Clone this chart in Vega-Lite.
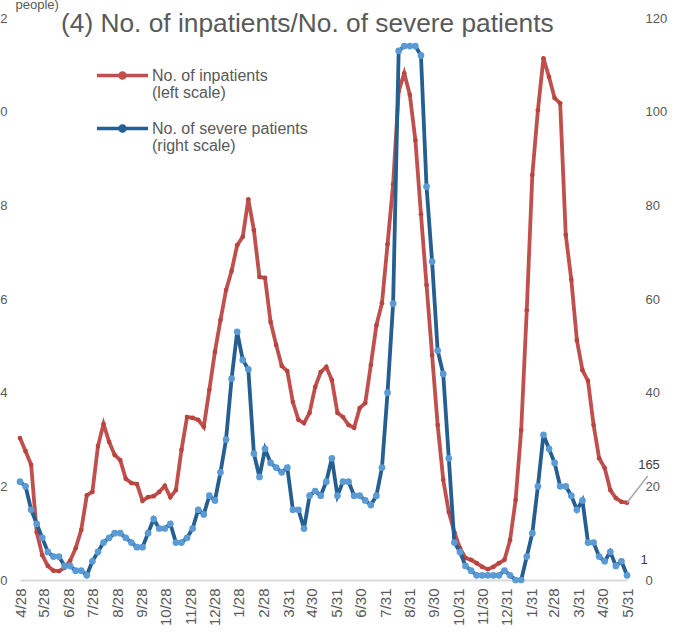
{
  "$schema": "https://vega.github.io/schema/vega-lite/v6.json",
  "width": 607,
  "height": 562,
  "autosize": {"type": "none"},
  "padding": {"left": 20, "top": 18, "right": 50, "bottom": 54},
  "background": "white",
  "config": {
    "font": "Liberation Sans",
    "view": {"stroke": null},
    "axis": {"grid": false, "ticks": false, "domain": false, "labelColor": "#595959", "labelFont": "Liberation Sans"}
  },
  "title": {
    "text": "(4) No. of inpatients/No. of severe patients",
    "anchor": "start",
    "frame": "group",
    "fontSize": 26.3,
    "fontWeight": "normal",
    "color": "#595959",
    "font": "Liberation Sans",
    "baseline": "top",
    "offset": -39,
    "dx": 41
  },
  "datasets": {
    "inpatients": [
      {"date": "2020-04-28", "value": 303}, {"date": "2020-05-05", "value": 275}, {"date": "2020-05-12", "value": 246}, {"date": "2020-05-19", "value": 102},
      {"date": "2020-05-26", "value": 53}, {"date": "2020-06-02", "value": 30}, {"date": "2020-06-09", "value": 20}, {"date": "2020-06-16", "value": 19},
      {"date": "2020-06-23", "value": 26}, {"date": "2020-06-30", "value": 41}, {"date": "2020-07-07", "value": 68}, {"date": "2020-07-14", "value": 107},
      {"date": "2020-07-21", "value": 181}, {"date": "2020-07-28", "value": 188}, {"date": "2020-08-04", "value": 286}, {"date": "2020-08-11", "value": 333},
      {"date": "2020-08-18", "value": 295}, {"date": "2020-08-25", "value": 267}, {"date": "2020-09-01", "value": 256}, {"date": "2020-09-08", "value": 216},
      {"date": "2020-09-15", "value": 207}, {"date": "2020-09-22", "value": 205}, {"date": "2020-09-29", "value": 169}, {"date": "2020-10-06", "value": 177},
      {"date": "2020-10-13", "value": 179}, {"date": "2020-10-20", "value": 188}, {"date": "2020-10-27", "value": 201}, {"date": "2020-11-03", "value": 177},
      {"date": "2020-11-10", "value": 192}, {"date": "2020-11-17", "value": 278}, {"date": "2020-11-24", "value": 348}, {"date": "2020-12-01", "value": 346},
      {"date": "2020-12-08", "value": 342}, {"date": "2020-12-15", "value": 327}, {"date": "2020-12-22", "value": 406}, {"date": "2020-12-29", "value": 487},
      {"date": "2021-01-05", "value": 555}, {"date": "2021-01-12", "value": 619}, {"date": "2021-01-19", "value": 660}, {"date": "2021-01-26", "value": 715},
      {"date": "2021-02-02", "value": 733}, {"date": "2021-02-09", "value": 813}, {"date": "2021-02-16", "value": 747}, {"date": "2021-02-23", "value": 647},
      {"date": "2021-03-02", "value": 645}, {"date": "2021-03-09", "value": 551}, {"date": "2021-03-16", "value": 502}, {"date": "2021-03-23", "value": 457},
      {"date": "2021-03-30", "value": 446}, {"date": "2021-04-06", "value": 380}, {"date": "2021-04-13", "value": 342}, {"date": "2021-04-20", "value": 335},
      {"date": "2021-04-27", "value": 357}, {"date": "2021-05-04", "value": 412}, {"date": "2021-05-11", "value": 444}, {"date": "2021-05-18", "value": 455},
      {"date": "2021-05-25", "value": 427}, {"date": "2021-06-01", "value": 357}, {"date": "2021-06-08", "value": 348}, {"date": "2021-06-15", "value": 331},
      {"date": "2021-06-22", "value": 325}, {"date": "2021-06-29", "value": 367}, {"date": "2021-07-06", "value": 378}, {"date": "2021-07-13", "value": 459},
      {"date": "2021-07-20", "value": 544}, {"date": "2021-07-27", "value": 591}, {"date": "2021-08-03", "value": 717}, {"date": "2021-08-10", "value": 845},
      {"date": "2021-08-17", "value": 1044}, {"date": "2021-08-24", "value": 1082}, {"date": "2021-08-31", "value": 1036}, {"date": "2021-09-07", "value": 939},
      {"date": "2021-09-14", "value": 781}, {"date": "2021-09-21", "value": 630}, {"date": "2021-09-28", "value": 480}, {"date": "2021-10-05", "value": 331},
      {"date": "2021-10-12", "value": 214}, {"date": "2021-10-19", "value": 145}, {"date": "2021-10-26", "value": 102}, {"date": "2021-11-02", "value": 68},
      {"date": "2021-11-09", "value": 47}, {"date": "2021-11-16", "value": 43}, {"date": "2021-11-23", "value": 36}, {"date": "2021-11-30", "value": 28},
      {"date": "2021-12-07", "value": 23}, {"date": "2021-12-14", "value": 28}, {"date": "2021-12-21", "value": 36}, {"date": "2021-12-28", "value": 43},
      {"date": "2022-01-04", "value": 85}, {"date": "2022-01-11", "value": 171}, {"date": "2022-01-18", "value": 320}, {"date": "2022-01-25", "value": 576},
      {"date": "2022-02-01", "value": 865}, {"date": "2022-02-08", "value": 1003}, {"date": "2022-02-15", "value": 1114}, {"date": "2022-02-22", "value": 1074},
      {"date": "2022-03-01", "value": 1029}, {"date": "2022-03-08", "value": 1018}, {"date": "2022-03-15", "value": 737}, {"date": "2022-03-22", "value": 641},
      {"date": "2022-03-29", "value": 512}, {"date": "2022-04-05", "value": 448}, {"date": "2022-04-12", "value": 425}, {"date": "2022-04-19", "value": 331},
      {"date": "2022-04-26", "value": 260}, {"date": "2022-05-03", "value": 239}, {"date": "2022-05-10", "value": 192}, {"date": "2022-05-17", "value": 175},
      {"date": "2022-05-24", "value": 167}, {"date": "2022-05-31", "value": 165}
    ],
    "severe": [
      {"date": "2020-04-28", "value": 21}, {"date": "2020-05-05", "value": 20}, {"date": "2020-05-12", "value": 15}, {"date": "2020-05-19", "value": 12},
      {"date": "2020-05-26", "value": 9}, {"date": "2020-06-02", "value": 6}, {"date": "2020-06-09", "value": 5}, {"date": "2020-06-16", "value": 5},
      {"date": "2020-06-23", "value": 3}, {"date": "2020-06-30", "value": 3}, {"date": "2020-07-07", "value": 2}, {"date": "2020-07-14", "value": 2},
      {"date": "2020-07-21", "value": 1}, {"date": "2020-07-28", "value": 4}, {"date": "2020-08-04", "value": 6}, {"date": "2020-08-11", "value": 8},
      {"date": "2020-08-18", "value": 9}, {"date": "2020-08-25", "value": 10}, {"date": "2020-09-01", "value": 10}, {"date": "2020-09-08", "value": 9},
      {"date": "2020-09-15", "value": 8}, {"date": "2020-09-22", "value": 7}, {"date": "2020-09-29", "value": 7}, {"date": "2020-10-06", "value": 10},
      {"date": "2020-10-13", "value": 13}, {"date": "2020-10-20", "value": 11}, {"date": "2020-10-27", "value": 11}, {"date": "2020-11-03", "value": 12},
      {"date": "2020-11-10", "value": 8}, {"date": "2020-11-17", "value": 8}, {"date": "2020-11-24", "value": 9}, {"date": "2020-12-01", "value": 11},
      {"date": "2020-12-08", "value": 15}, {"date": "2020-12-15", "value": 14}, {"date": "2020-12-22", "value": 18}, {"date": "2020-12-29", "value": 17},
      {"date": "2021-01-05", "value": 23}, {"date": "2021-01-12", "value": 30}, {"date": "2021-01-19", "value": 43}, {"date": "2021-01-26", "value": 53},
      {"date": "2021-02-02", "value": 47}, {"date": "2021-02-09", "value": 45}, {"date": "2021-02-16", "value": 27}, {"date": "2021-02-23", "value": 22},
      {"date": "2021-03-02", "value": 28}, {"date": "2021-03-09", "value": 25}, {"date": "2021-03-16", "value": 24}, {"date": "2021-03-23", "value": 23},
      {"date": "2021-03-30", "value": 24}, {"date": "2021-04-06", "value": 15}, {"date": "2021-04-13", "value": 15}, {"date": "2021-04-20", "value": 11},
      {"date": "2021-04-27", "value": 18}, {"date": "2021-05-04", "value": 19}, {"date": "2021-05-11", "value": 18}, {"date": "2021-05-18", "value": 21},
      {"date": "2021-05-25", "value": 26}, {"date": "2021-06-01", "value": 18}, {"date": "2021-06-08", "value": 21}, {"date": "2021-06-15", "value": 21},
      {"date": "2021-06-22", "value": 18}, {"date": "2021-06-29", "value": 18}, {"date": "2021-07-06", "value": 17}, {"date": "2021-07-13", "value": 16},
      {"date": "2021-07-20", "value": 18}, {"date": "2021-07-27", "value": 24}, {"date": "2021-08-03", "value": 40}, {"date": "2021-08-10", "value": 59},
      {"date": "2021-08-17", "value": 113}, {"date": "2021-08-24", "value": 114}, {"date": "2021-08-31", "value": 114}, {"date": "2021-09-07", "value": 114},
      {"date": "2021-09-14", "value": 112}, {"date": "2021-09-21", "value": 84}, {"date": "2021-09-28", "value": 68}, {"date": "2021-10-05", "value": 49},
      {"date": "2021-10-12", "value": 44}, {"date": "2021-10-19", "value": 26}, {"date": "2021-10-26", "value": 8}, {"date": "2021-11-02", "value": 6},
      {"date": "2021-11-09", "value": 3}, {"date": "2021-11-16", "value": 2}, {"date": "2021-11-23", "value": 1}, {"date": "2021-11-30", "value": 1},
      {"date": "2021-12-07", "value": 1}, {"date": "2021-12-14", "value": 1}, {"date": "2021-12-21", "value": 1}, {"date": "2021-12-28", "value": 2},
      {"date": "2022-01-04", "value": 1}, {"date": "2022-01-11", "value": 0}, {"date": "2022-01-18", "value": 0}, {"date": "2022-01-25", "value": 5},
      {"date": "2022-02-01", "value": 10}, {"date": "2022-02-08", "value": 20}, {"date": "2022-02-15", "value": 31}, {"date": "2022-02-22", "value": 28},
      {"date": "2022-03-01", "value": 25}, {"date": "2022-03-08", "value": 20}, {"date": "2022-03-15", "value": 20}, {"date": "2022-03-22", "value": 18},
      {"date": "2022-03-29", "value": 15}, {"date": "2022-04-05", "value": 17}, {"date": "2022-04-12", "value": 8}, {"date": "2022-04-19", "value": 8},
      {"date": "2022-04-26", "value": 5}, {"date": "2022-05-03", "value": 4}, {"date": "2022-05-10", "value": 6}, {"date": "2022-05-17", "value": 3},
      {"date": "2022-05-24", "value": 4}, {"date": "2022-05-31", "value": 1}
    ]
  },
  "encoding": {
    "x": {
      "field": "date",
      "type": "temporal",
      "scale": {
        "type": "utc",
        "nice": false,
        "domain": [{"year": 2020, "month": 4, "date": 28, "utc": true}, {"year": 2022, "month": 5, "date": 31, "utc": true}]
      },
      "axis": {
        "title": null,
        "format": "%-m/%-d",
        "labelAngle": 270,
        "labelFontSize": 15,
        "labelPadding": 8,
        "labelOverlap": false,
        "labelFlush": false,
        "domain": true,
        "domainColor": "#D9D9D9",
        "domainWidth": 2,
        "values": [
          {"year": 2020, "month": 4, "date": 28, "utc": true}, {"year": 2020, "month": 5, "date": 28, "utc": true},
          {"year": 2020, "month": 6, "date": 28, "utc": true}, {"year": 2020, "month": 7, "date": 28, "utc": true},
          {"year": 2020, "month": 8, "date": 28, "utc": true}, {"year": 2020, "month": 9, "date": 28, "utc": true},
          {"year": 2020, "month": 10, "date": 28, "utc": true}, {"year": 2020, "month": 11, "date": 28, "utc": true},
          {"year": 2020, "month": 12, "date": 28, "utc": true}, {"year": 2021, "month": 1, "date": 28, "utc": true},
          {"year": 2021, "month": 2, "date": 28, "utc": true}, {"year": 2021, "month": 3, "date": 31, "utc": true},
          {"year": 2021, "month": 4, "date": 30, "utc": true}, {"year": 2021, "month": 5, "date": 31, "utc": true},
          {"year": 2021, "month": 6, "date": 30, "utc": true}, {"year": 2021, "month": 7, "date": 31, "utc": true},
          {"year": 2021, "month": 8, "date": 31, "utc": true}, {"year": 2021, "month": 9, "date": 30, "utc": true},
          {"year": 2021, "month": 10, "date": 31, "utc": true}, {"year": 2021, "month": 11, "date": 30, "utc": true},
          {"year": 2021, "month": 12, "date": 31, "utc": true}, {"year": 2022, "month": 1, "date": 31, "utc": true},
          {"year": 2022, "month": 2, "date": 28, "utc": true}, {"year": 2022, "month": 3, "date": 31, "utc": true},
          {"year": 2022, "month": 4, "date": 30, "utc": true}, {"year": 2022, "month": 5, "date": 31, "utc": true}
        ]
      }
    }
  },
  "layer": [
    {
      "data": {"name": "inpatients"},
      "encoding": {
        "y": {
          "field": "value",
          "type": "quantitative",
          "scale": {"domain": [0, 1200], "nice": false},
          "axis": {
            "orient": "left",
            "values": [0, 200, 400, 600, 800, 1000, 1200],
            "labelExpr": "format(datum.value / 100, 'd')",
            "labelFontSize": 13,
            "labelPadding": 13,
            "title": "people)",
            "titleAngle": 0,
            "titleAlign": "left",
            "titleBaseline": "alphabetic",
            "titleX": -5,
            "titleY": -10,
            "titleFontSize": 13,
            "titleFontWeight": "normal",
            "titleColor": "#595959",
            "titleFont": "Liberation Sans"
          }
        }
      },
      "layer": [
        {
          "mark": {"type": "line", "strokeWidth": 3.8},
          "encoding": {
            "color": {
              "datum": "No. of inpatients",
              "scale": {"domain": ["No. of inpatients", "No. of severe patients"], "range": ["#C0504D", "#255E91"]},
              "legend": {
                "title": null,
                "orient": "none",
                "legendX": 75,
                "legendY": 30,
                "direction": "vertical",
                "symbolType": "M-1,0L1,0M0.1,0A0.1,0.1,0,1,1,-0.1,0A0.1,0.1,0,1,1,0.1,0Z",
                "symbolSize": 2601,
                "symbolStrokeWidth": 3.5,
                "labelFontSize": 16,
                "labelColor": "#595959",
                "labelFont": "Liberation Sans",
                "labelOffset": 2,
                "labelLimit": 300,
                "rowPadding": 0,
                "labelExpr": "datum.label == 'No. of inpatients' ? ['No. of inpatients', '(left scale)'] : ['No. of severe patients', '(right scale)']",
                "encode": {
                  "symbols": {"update": {"fill": {"signal": "datum.value == 'No. of severe patients' ? '#5B9BD5' : '#C0504D'"}, "opacity": {"value": 1}}},
                  "labels": {"update": {"lineHeight": {"value": 17}}}
                }
              }
            }
          }
        },
        {
          "mark": {"type": "point", "filled": true, "size": 22, "color": "#B8443F", "opacity": 1}
        },
        {
          "transform": [{"filter": "utcyear(datum.date) == 2022 && utcmonth(datum.date) == 4 && utcdate(datum.date) == 31"}],
          "mark": {"type": "rule", "color": "#A6A6A6", "strokeWidth": 1.5},
          "encoding": {
            "x2": {"datum": {"year": 2022, "month": 6, "date": 26, "utc": true}},
            "y2": {"datum": 222}
          }
        },
        {
          "transform": [{"filter": "utcyear(datum.date) == 2022 && utcmonth(datum.date) == 4 && utcdate(datum.date) == 31"}],
          "mark": {"type": "text", "dx": 22, "dy": -38, "fontSize": 13, "color": "#404040", "font": "Liberation Sans"},
          "encoding": {"text": {"field": "value", "type": "quantitative"}}
        }
      ]
    },
    {
      "data": {"name": "severe"},
      "encoding": {
        "y": {
          "field": "value",
          "type": "quantitative",
          "scale": {"domain": [0, 120], "nice": false},
          "axis": {
            "orient": "right",
            "values": [0, 20, 40, 60, 80, 100, 120],
            "labelFontSize": 13,
            "labelPadding": 18,
            "title": null
          }
        }
      },
      "layer": [
        {
          "mark": {"type": "line", "strokeWidth": 3.8},
          "encoding": {"color": {"datum": "No. of severe patients"}}
        },
        {
          "mark": {"type": "point", "filled": true, "size": 45, "color": "#5B9BD5", "opacity": 1}
        },
        {
          "transform": [{"filter": "utcyear(datum.date) == 2022 && utcmonth(datum.date) == 4 && utcdate(datum.date) == 31"}],
          "mark": {"type": "text", "dx": 17, "dy": -15, "fontSize": 13, "color": "#404040", "font": "Liberation Sans"},
          "encoding": {"text": {"field": "value", "type": "quantitative"}}
        }
      ]
    }
  ],
  "resolve": {"scale": {"y": "independent"}}
}
